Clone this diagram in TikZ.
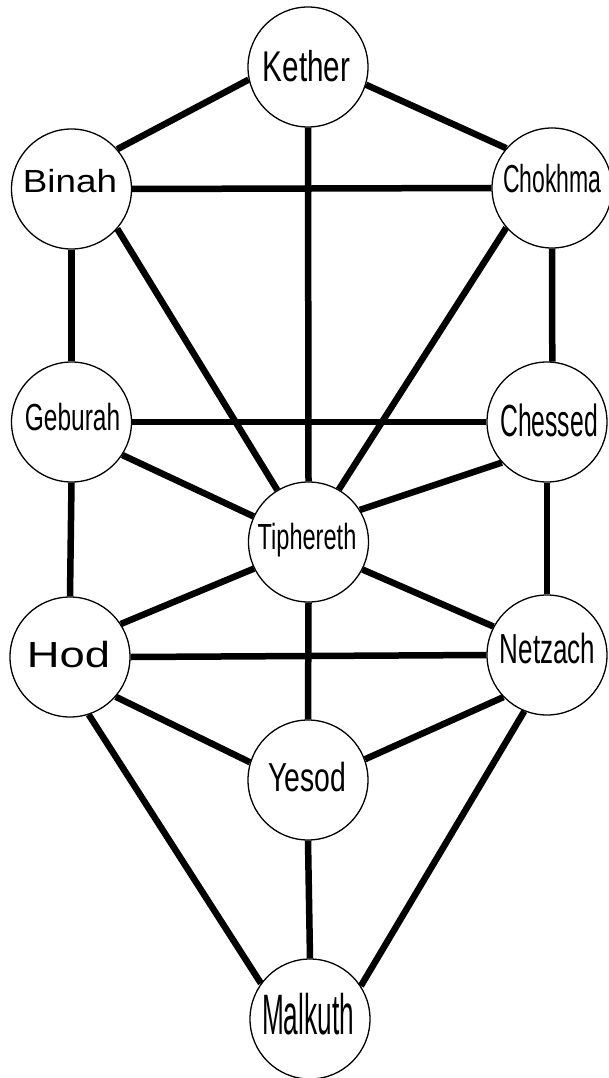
\documentclass[tikz,border=0pt]{standalone}
\usepackage{fontspec}
\setmainfont{Liberation Sans}
\newcommand{\lbl}[3]{\scalebox{#1}[1]{\fontsize{#2}{#2}\selectfont #3}}
\begin{document}
\begin{tikzpicture}[x=1pt,y=-1pt,
  sephira/.style={circle,draw=black,line width=1.3pt,fill=white,minimum size=120pt,inner sep=0pt},
  path/.style={line width=6.5pt,draw=black},
  lab/.style={anchor=base,inner sep=0pt,text=black}]
\useasboundingbox (0,0) rectangle (608,1078);
\node[sephira] (kether) at (308,67) {};
\node[sephira] (binah) at (71.5,189) {};
\node[sephira] (chokhma) at (552,188) {};
\node[sephira] (geburah) at (71.5,422) {};
\node[sephira] (chessed) at (547,422) {};
\node[sephira] (tiphereth) at (308.5,542) {};
\node[sephira] (hod) at (70,657) {};
\node[sephira] (netzach) at (547,655) {};
\node[sephira] (yesod) at (308,780) {};
\node[sephira] (malkuth) at (310,1019) {};

\draw[path] (kether.192) -- (binah.41);
\draw[path] (kether.343) -- (chokhma.139);
\draw[path] (kether.south) -- (tiphereth.north);
\draw[path] (binah.east) -- (chokhma.west);
\draw[path] (binah.south) -- (geburah.north);
\draw[path] (binah.319) -- (tiphereth.121);
\draw[path] (chokhma.south) -- (chessed.85);
\draw[path] (chokhma.221) -- (tiphereth.60);
\draw[path] (geburah.east) -- (chessed.west);
\draw[path] (geburah.327) -- (tiphereth.155);
\draw[path] (geburah.south) -- (hod.north);
\draw[path] (chessed.222) -- (tiphereth.32);
\draw[path] (chessed.south) -- (netzach.north);
\draw[path] (tiphereth.206) -- (hod.33);
\draw[path] (tiphereth.333) -- (netzach.152);
\draw[path] (tiphereth.south) -- (yesod.north);
\draw[path] (hod.east) -- (netzach.west);
\draw[path] (hod.319) -- (yesod.163);
\draw[path] (netzach.224) -- (yesod.20);
\draw[path] (hod.288) -- (malkuth.144);
\draw[path] (netzach.248) -- (malkuth.33);
\draw[path] (yesod.south) -- (malkuth.north);

\node[lab] (tkether) at (306.5,81.7) {\lbl{0.69}{43}{Kether}};
\node[lab] (tbinah) at (70,193) {\lbl{1.15}{32}{Binah}};
\node[lab] (tchokhma) at (552.5,193) {\lbl{0.59}{39}{Chokhma}};
\node[lab] (tgeburah) at (72.5,430) {\lbl{0.65}{37.7}{Geburah}};
\node[lab] (tchessed) at (549,436) {\lbl{0.55}{45}{Chessed}};
\node[lab] (ttiphereth) at (307,549.3) {\lbl{0.65}{36.3}{Tiphereth}};
\node[lab] (thod) at (68.5,667.7) {\lbl{1.25}{36.3}{Hod}};
\node[lab] (tnetzach) at (547.5,663.3) {\lbl{0.62}{42}{Netzach}};
\node[lab] (tyesod) at (307,791.7) {\lbl{0.70}{40.5}{Yesod}};
\node[lab] (tmalkuth) at (308,1034) {\lbl{0.46}{57}{Malkuth}};
\end{tikzpicture}
\end{document}
